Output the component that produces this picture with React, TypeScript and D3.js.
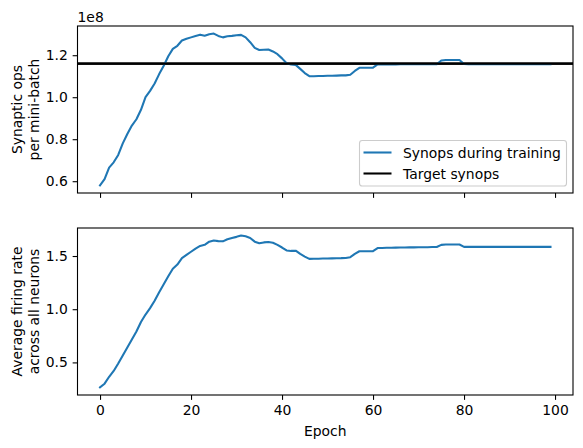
import React, { useRef, useEffect } from "react";
import * as d3 from "d3";

// synaptic ops per mini-batch, in units of 1e8, one per epoch (0..99)
const synops = [
  0.58, 0.61, 0.665, 0.69, 0.725, 0.78, 0.825, 0.865, 0.895, 0.94,
  1.0, 1.03, 1.065, 1.11, 1.15, 1.195, 1.23, 1.245, 1.27, 1.278,
  1.285, 1.292, 1.298, 1.293, 1.3, 1.303, 1.292, 1.285, 1.29, 1.292,
  1.295, 1.297, 1.285, 1.262, 1.235, 1.225, 1.226, 1.227, 1.218, 1.205,
  1.185, 1.162, 1.156, 1.154, 1.135, 1.115, 1.1, 1.1, 1.101, 1.101,
  1.102, 1.102, 1.103, 1.104, 1.104, 1.107, 1.125, 1.14, 1.14, 1.14,
  1.141, 1.156, 1.156, 1.156, 1.156, 1.156, 1.157, 1.157, 1.157, 1.157,
  1.157, 1.157, 1.157, 1.157, 1.157, 1.175, 1.177, 1.177, 1.177, 1.177,
  1.158, 1.157, 1.157, 1.157, 1.157, 1.157, 1.157, 1.157, 1.157, 1.157,
  1.157, 1.157, 1.157, 1.157, 1.157, 1.157, 1.157, 1.157, 1.157, 1.157,
];

const firingRate = [
  0.265, 0.3, 0.365, 0.42, 0.49, 0.565, 0.64, 0.715, 0.79, 0.88,
  0.95, 1.01, 1.08, 1.16, 1.235, 1.31, 1.38, 1.42, 1.48, 1.51,
  1.54, 1.57, 1.595, 1.605, 1.635, 1.645, 1.64, 1.638, 1.658, 1.67,
  1.68, 1.692, 1.685, 1.67, 1.635, 1.62, 1.628, 1.632, 1.625, 1.605,
  1.58, 1.552, 1.548, 1.55, 1.52, 1.495, 1.473, 1.474, 1.475, 1.476,
  1.477, 1.478, 1.479, 1.48, 1.482, 1.489, 1.52, 1.545, 1.545, 1.545,
  1.546, 1.575, 1.576, 1.577, 1.578, 1.579, 1.58, 1.58, 1.581, 1.581,
  1.582, 1.582, 1.583, 1.584, 1.585, 1.605, 1.608, 1.608, 1.608, 1.608,
  1.586, 1.586, 1.586, 1.586, 1.586, 1.586, 1.586, 1.586, 1.586, 1.586,
  1.586, 1.586, 1.586, 1.586, 1.586, 1.586, 1.586, 1.586, 1.586, 1.586,
];

const targetSynops = 1.16;
const xTicks = [0, 20, 40, 60, 80, 100];
const synopsTicks = [0.6, 0.8, 1.0, 1.2];
const rateTicks = [0.5, 1.0, 1.5];
const legendLabels = ["Synops during training", "Target synops"];

const FONT = "DejaVu Sans, sans-serif";
const FS = 13.9;

function padded(vals: number[]): [number, number] {
  const [lo, hi] = d3.extent(vals) as [number, number];
  const p = (hi - lo) * 0.05;
  return [lo - p, hi + p];
}

export default function App() {
  const ref = useRef<SVGSVGElement>(null);

  useEffect(() => {
    draw();
  }, []);

  function draw() {
    const svg = d3.select(ref.current);
    svg.selectAll("*").remove();

    const left = 77.5;
    const right = 573;
    const epochs = synops.map((_, i) => i);
    const x = d3.scaleLinear().domain(padded(epochs)).range([left, right]);

    const panels = [
      { top: 26, bottom: 193, data: synops, ticks: synopsTicks, label: ["Synaptic ops", "per mini-batch"], xLabels: false },
      { top: 228, bottom: 395, data: firingRate, ticks: rateTicks, label: ["Average firing rate", "across all neurons"], xLabels: true },
    ];

    panels.forEach((p, pi) => {
      const y = d3.scaleLinear().domain(padded(p.data)).range([p.bottom, p.top]);
      const g = svg.append("g");

      if (pi === 0) {
        g.append("line")
          .attr("x1", left).attr("x2", right)
          .attr("y1", y(targetSynops)).attr("y2", y(targetSynops))
          .attr("stroke", "black").attr("stroke-width", 2.08);
      }

      g.append("path")
        .datum(p.data)
        .attr("fill", "none")
        .attr("stroke", "#1f77b4")
        .attr("stroke-width", 2.08)
        .attr("stroke-linejoin", "round")
        .attr("stroke-linecap", "square")
        .attr("d", d3.line<number>().x((_, i) => x(i)).y((d) => y(d)));

      if (pi === 0) {
        // redraw target on top like matplotlib's plotting order
        g.append("line")
          .attr("x1", left).attr("x2", right)
          .attr("y1", y(targetSynops)).attr("y2", y(targetSynops))
          .attr("stroke", "black").attr("stroke-width", 2.08);
      }

      const yAxis = g.append("g")
        .attr("transform", `translate(${left},0)`)
        .call(d3.axisLeft(y).tickValues(p.ticks).tickFormat(d3.format(".1f")).tickSize(4.86).tickPadding(4.86));
      yAxis.select(".domain").remove();

      const xAxis = g.append("g")
        .attr("transform", `translate(0,${p.bottom})`)
        .call(d3.axisBottom(x).tickValues(xTicks).tickFormat(p.xLabels ? d3.format("d") : () => "").tickSize(4.86).tickPadding(4.86));
      xAxis.select(".domain").remove();

      g.selectAll(".tick line").attr("stroke", "black").attr("stroke-width", 1.1);
      g.selectAll(".tick text").attr("font-family", FONT).attr("font-size", FS).attr("fill", "black");

      g.append("rect")
        .attr("x", left).attr("y", p.top)
        .attr("width", right - left).attr("height", p.bottom - p.top)
        .attr("fill", "none").attr("stroke", "black").attr("stroke-width", 1.1);

      const cy = (p.top + p.bottom) / 2;
      const yl = g.append("text")
        .attr("transform", `translate(22,${cy}) rotate(-90)`)
        .attr("text-anchor", "middle")
        .attr("font-family", FONT).attr("font-size", FS);
      yl.append("tspan").attr("x", 0).attr("y", 0).text(p.label[0]);
      yl.append("tspan").attr("x", 0).attr("y", 16.7).text(p.label[1]);
    });

    svg.append("text")
      .attr("x", left).attr("y", 22)
      .attr("font-family", FONT).attr("font-size", FS)
      .text("1e8");

    svg.append("text")
      .attr("x", (left + right) / 2).attr("y", 436)
      .attr("text-anchor", "middle")
      .attr("font-family", FONT).attr("font-size", FS)
      .text("Epoch");

    // legend
    const lg = svg.append("g");
    lg.append("rect")
      .attr("x", 359.5).attr("y", 140.5).attr("width", 207).attr("height", 45.5)
      .attr("rx", 2.8)
      .attr("fill", "white").attr("fill-opacity", 0.8)
      .attr("stroke", "#cccccc").attr("stroke-width", 1.1);
    const colors = ["#1f77b4", "black"];
    legendLabels.forEach((t, i) => {
      const ly = 152.5 + i * 21;
      lg.append("line")
        .attr("x1", 363.5).attr("x2", 391.5).attr("y1", ly).attr("y2", ly)
        .attr("stroke", colors[i]).attr("stroke-width", 2.08);
      lg.append("text")
        .attr("x", 403).attr("y", ly + 5)
        .attr("font-family", FONT).attr("font-size", FS)
        .text(t);
    });
  }

  return (
    <svg ref={ref} width={583} height={448} style={{ position: "absolute", left: 0, top: 0, background: "white" }} />
  );
}
